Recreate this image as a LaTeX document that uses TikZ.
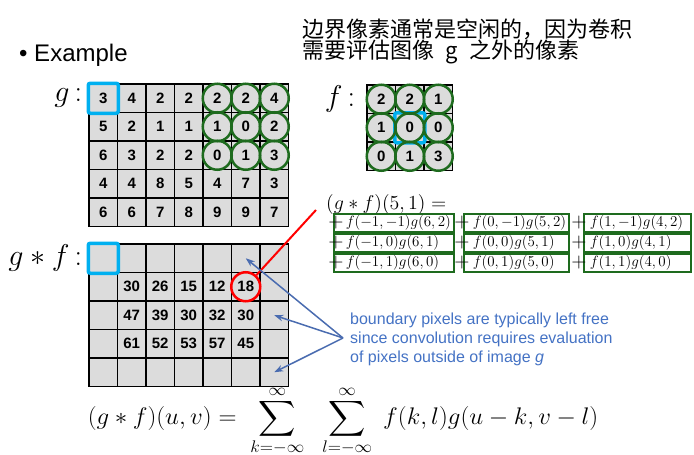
\RequirePackage{fix-cm}
\documentclass[tikz,border=0pt]{standalone}
\usepackage[no-math]{fontspec}
\usepackage{amsmath}
\usetikzlibrary{positioning,arrows.meta}
\newfontfamily\arial{Liberation Sans}
\newfontfamily\cjk{Noto Sans CJK SC}
\definecolor{CellGray}{HTML}{DCDCDC}
\definecolor{RingGreen}{HTML}{1E6B1E}
\definecolor{SelCyan}{HTML}{00B0F0}
\definecolor{NoteBlue}{HTML}{4472C4}
\definecolor{ArrowBlue}{HTML}{4A6CB0}
\makeatletter
\newcommand\mathrefresh{\let\glb@currsize\relax}
\makeatother

\begin{document}
\begin{tikzpicture}[x=1pt,y=-1pt,
    cell/.style={draw=black,line width=1.6pt,fill=CellGray,minimum size=28.5pt,
      inner sep=0pt,font=\arial\bfseries\fontsize{15}{15}\selectfont},
    ring/.style={circle,draw=RingGreen,line width=2.5pt,minimum size=29pt,inner sep=0pt},
    redring/.style={circle,draw=red,line width=2.5pt,minimum size=29pt,inner sep=0pt},
    selbox/.style={draw=SelCyan,line width=3.5pt,rounded corners=2pt,minimum size=30pt,inner sep=0pt},
    lbl/.style={inner sep=0pt,font=\fontsize{30}{30}\mathrefresh\selectfont},
    term/.style={draw=RingGreen,line width=1.5pt,inner xsep=2pt,inner ysep=1.5pt,
      minimum height=18pt,align=left,anchor=west,font=\fontsize{15}{18}\mathrefresh\selectfont},
    eqtxt/.style={inner sep=0pt,font=\fontsize{15}{18}\mathrefresh\selectfont},
    plussign/.style={inner sep=0pt,font=\fontsize{15}{18}\mathrefresh\selectfont},
    note/.style={align=left,inner sep=0pt,text=NoteBlue,font=\arial\fontsize{16}{19}\selectfont},
    arrow/.style={-{Stealth[length=9pt,width=6.5pt]},line width=1.5pt,draw=ArrowBlue}
  ]
    \useasboundingbox (0,0) rectangle (694,455);

    % headings
    \node[anchor=west,inner sep=0pt,font=\arial\fontsize{24}{24}\selectfont] (title) at (19,55) {• Example};
    \node[anchor=north west,align=left,inner sep=0pt,font=\cjk\fontsize{22}{21}\selectfont] (remark) at (302,19)
      {边界像素通常是空闲的，因为卷积\\需要评估图像\hspace{0.3em} g \hspace{0.3em}之外的像素};

    % image g
    \foreach \vals [count=\r from 0] in {{3,4,2,2,2,2,4},{5,2,1,1,1,0,2},{6,3,2,2,0,1,3},{4,4,8,5,4,7,3},{6,6,7,8,9,9,7}}
      \foreach \v [count=\c from 0] in \vals
        \node[cell] (g-\r-\c) at ({103.25+28.5*\c},{98.25+28.5*\r}) {\v};
    \node[selbox] (gsel) at (g-0-0) {};
    \foreach \r in {0,1,2}
      \foreach \c in {4,5,6}
        \node[ring] (gr-\r-\c) at (g-\r-\c) {};
    \node[lbl,left=6pt of g-0-0] (glab) {$g$\,:};

    % kernel f
    \foreach \vals [count=\r from 0] in {{2,2,1},{1,0,0},{0,1,3}}
      \foreach \v [count=\c from 0] in \vals
        \node[cell] (k-\r-\c) at ({381.25+28.5*\c},{99.25+28.5*\r}) {\v};
    \node[selbox] (ksel) at (k-1-1) {};
    \foreach \r in {0,1,2}
      \foreach \c in {0,1,2}
        \node[ring] (kr-\r-\c) at (k-\r-\c) {};
    \node[lbl,left=11pt of k-0-0] (flab) {$f$\,:};

    % result g*f
    \foreach \vals [count=\r from 0] in {{{},{},{},{},{},{},{}},{{},30,26,15,12,18,{}},{{},47,39,30,32,30,{}},{{},61,52,53,57,45,{}},{{},{},{},{},{},{},{}}}
      \foreach \v [count=\c from 0] in \vals
        \node[cell] (h-\r-\c) at ({103.25+28.5*\c},{258.25+28.5*\r}) {\v};
    \node[selbox] (hsel) at (h-0-0) {};
    \node[redring] (hred) at (h-1-5) {};
    \node[lbl,left=6pt of h-0-0] (hlab) {$g\ast f$\,:};

    % expansion of (g*f)(5,1)
    \node[eqtxt,anchor=west] (conv) at (326,205) {\scalebox{1.33}{$(g\ast f)(5,1) =$}};
    \foreach \txt [count=\r from 0] in {{f(-1,-1)g(6,2)},{f(-1,0)g(6,1)},{f(-1,1)g(6,0)}} {
      \node[term,text width=116pt] (t-\r-0) at (333,{223+20*\r}) {\hspace*{10pt}$\txt$};
      \node[plussign] at ([xshift=3pt]t-\r-0.west) {\scalebox{1.33}{$+$}};
    }
    \foreach \txt [count=\r from 0] in {{f(0,-1)g(5,2)},{f(0,0)g(5,1)},{f(0,1)g(5,0)}} {
      \node[term,text width=101pt] (t-\r-1) at (463,{223+20*\r}) {\hspace*{7pt}$\txt$};
      \node[plussign] at ([xshift=-1pt]t-\r-1.west) {\scalebox{1.33}{$+$}};
    }
    \foreach \txt [count=\r from 0] in {{f(1,-1)g(4,2)},{f(1,0)g(4,1)},{f(1,1)g(4,0)}} {
      \node[term,text width=103pt] (t-\r-2) at (583,{223+20*\r}) {\hspace*{4pt}$\txt$};
      \node[plussign] at ([xshift=-4pt]t-\r-2.west) {\scalebox{1.33}{$+$}};
    }
    \coordinate (redend) at ([xshift=-10pt,yshift=-5pt]conv.west);
    \draw[red,line width=2pt] (hred) -- (redend);

    % boundary note
    \node[note,anchor=west] (note) at (350,339)
      {boundary pixels are typically left free\\since convolution requires evaluation\\of pixels outside of image {\itshape g}};
    \coordinate (src) at ([xshift=-7pt,yshift=1pt]note.west);
    \draw[arrow] (src) -- (h-0-5.center);
    \draw[arrow] (src) -- (h-2-6.center);
    \draw[arrow] (src) -- (h-4-6.center);

    % definition
    \node[inner sep=0pt,font=\fontsize{24}{28}\mathrefresh\selectfont] (defn) at (343,422)
      {\scalebox{1.04}[1]{$\displaystyle (g\ast f)(u,v) = \;\sum_{\raisebox{2pt}[\height][\depth]{$\scriptstyle k=-\infty$}}^{\raisebox{-2pt}[\height][0pt]{$\scriptstyle\infty$}}\;\;\sum_{\raisebox{2pt}[\height][\depth]{$\scriptstyle l=-\infty$}}^{\raisebox{-2pt}[\height][0pt]{$\scriptstyle\infty$}}\; f(k,l)g(u-k,v-l)$}};
  \end{tikzpicture}
\end{document}
